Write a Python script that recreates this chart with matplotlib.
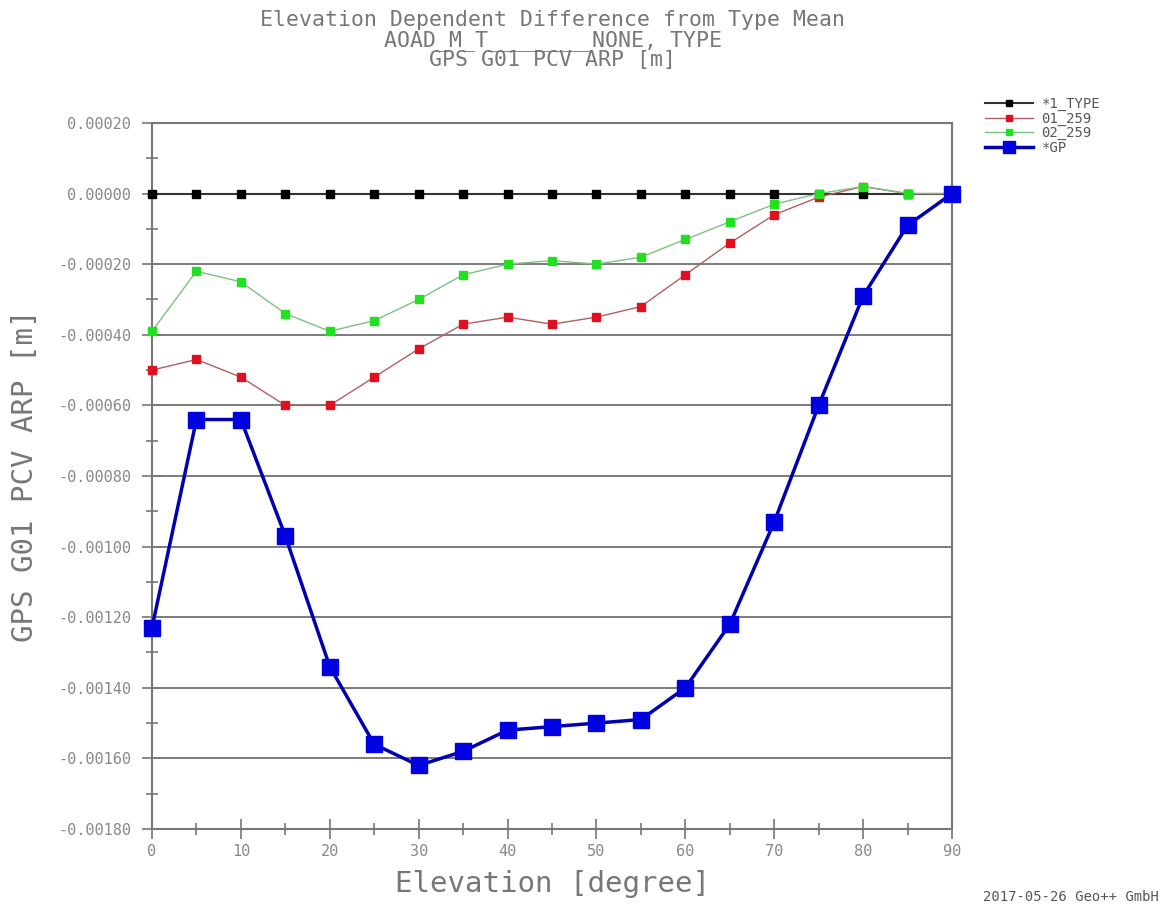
import numpy as np
import matplotlib
matplotlib.use('Agg')
import matplotlib.pyplot as plt
from matplotlib.ticker import MultipleLocator

elev = np.arange(0, 95, 5)

type_mean = [0.0] * 19
s01_259 = [-0.00050, -0.00047, -0.00052, -0.00060, -0.00060, -0.00052, -0.00044,
           -0.00037, -0.00035, -0.00037, -0.00035, -0.00032, -0.00023, -0.00014,
           -0.00006, -0.00001, 0.00002, 0.00000, 0.00000]
s02_259 = [-0.00039, -0.00022, -0.00025, -0.00034, -0.00039, -0.00036, -0.00030,
           -0.00023, -0.00020, -0.00019, -0.00020, -0.00018, -0.00013, -0.00008,
           -0.00003, 0.00000, 0.00002, 0.00000, 0.00000]
gp = [-0.00123, -0.00064, -0.00064, -0.00097, -0.00134, -0.00156, -0.00162,
      -0.00158, -0.00152, -0.00151, -0.00150, -0.00149, -0.00140, -0.00122,
      -0.00093, -0.00060, -0.00029, -0.00009, 0.00000]

series = [
    (type_mean, '#000000', '#333333', 1.5, 6, '*1_TYPE'),
    (s01_259, '#e01020', '#b06060', 1.0, 6, '01_259'),
    (s02_259, '#20e020', '#80c080', 1.0, 6, '02_259'),
    (gp, '#0000e0', '#0000b0', 2.5, 11, '*GP'),
]

grey = '#777777'
font = 'DejaVu Sans Mono'

fig = plt.figure(figsize=(11.71, 9.13), dpi=100)
ax = fig.add_axes([0.1298, 0.092, 0.6832, 0.7733])

for vals, mc, lc, lw, ms, lab in series:
    ax.plot(elev, vals, color=lc, lw=lw, marker='s', markersize=ms,
            markerfacecolor=mc, markeredgecolor=mc, label=lab, clip_on=False, zorder=3)

ax.set_xlim(0, 90)
ax.set_ylim(-0.0018, 0.0002)
ax.xaxis.set_major_locator(MultipleLocator(10))
ax.xaxis.set_minor_locator(MultipleLocator(5))
ax.yaxis.set_minor_locator(MultipleLocator(0.0001))
yt = np.arange(-0.0018, 0.00021, 0.0002)
ax.set_yticks(yt)
ax.set_yticklabels(['%.5f' % v for v in yt])
ax.yaxis.grid(True, which='major', color='#666666', lw=1.2)
ax.set_axisbelow(True)

for s in ax.spines.values():
    s.set_color(grey)
    s.set_linewidth(1.5)

ax.tick_params(axis='both', which='major', direction='inout', length=14, width=1.2,
               color=grey, labelcolor='#888888', labelsize=11)
ax.tick_params(axis='both', which='minor', direction='inout', length=8, width=1.2,
               color=grey)
ax.tick_params(axis='y', pad=8)
for t in ax.get_xticklabels() + ax.get_yticklabels():
    t.set_family(font)

ax.set_xlabel('Elevation [degree]', fontsize=21, color=grey, family=font, labelpad=8)
ax.set_ylabel('GPS G01 PCV ARP [m]', fontsize=21, color=grey, family=font, labelpad=14)

fig.text(0.472, 0.956,
         'Elevation Dependent Difference from Type Mean\n'
         'AOAD_M_T________NONE, TYPE\n'
         'GPS G01 PCV ARP [m]',
         ha='center', va='center', fontsize=15.5, color=grey, family=font,
         linespacing=0.98)
fig.text(0.99, 0.01, '2017-05-26 Geo++ GmbH', ha='right', va='bottom',
         fontsize=10, color='#555555', family=font)

leg = ax.legend(loc='upper left', bbox_to_anchor=(1.025, 1.055), frameon=False,
                prop={'family': font, 'size': 10}, labelspacing=0.05,
                handlelength=3.5, handletextpad=0.6, markerscale=0.8)
for t in leg.get_texts():
    t.set_color('#555555')

fig.savefig('out.png', dpi=100)
